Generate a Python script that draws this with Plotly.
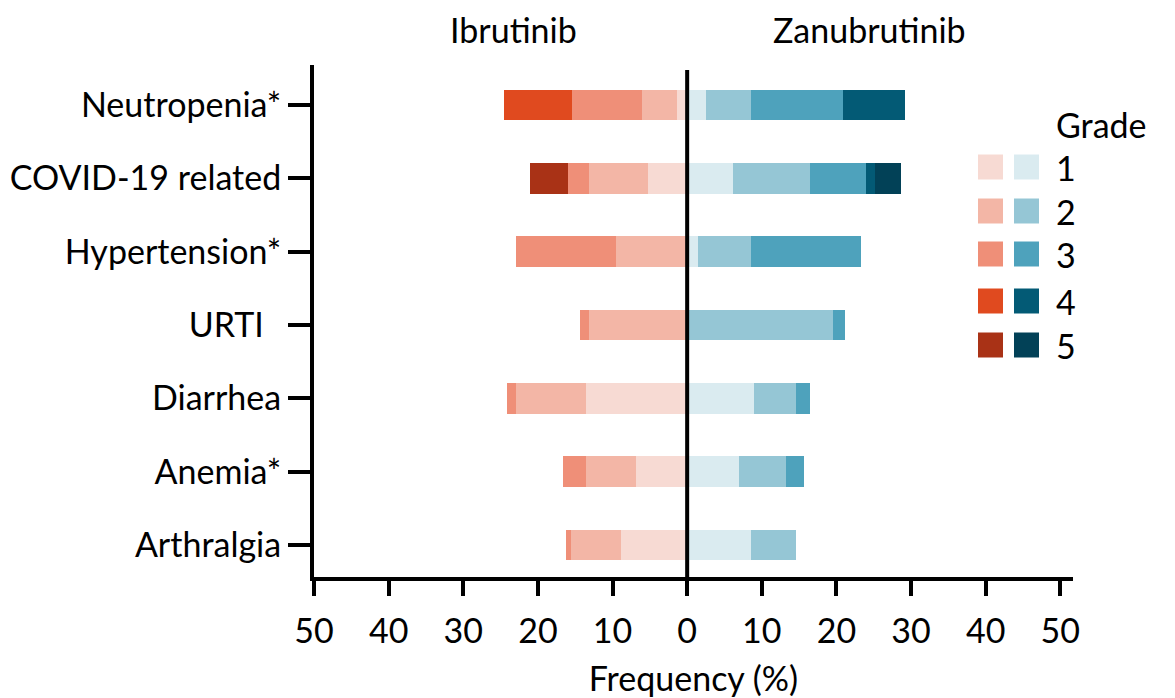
import plotly.graph_objects as go

categories = ["Neutropenia*", "COVID-19 related", "Hypertension*", "URTI\u00a0\u00a0", "Diarrhea", "Anemia*", "Arthralgia"]
grades = ["1", "2", "3", "4", "5"]

# Ibrutinib frequencies (%) by grade
ibru = {
    "1": [1.3, 5.2, 0.0, 0.0, 13.6, 6.9, 8.8],
    "2": [4.7, 7.9, 9.5, 13.1, 9.3, 6.7, 6.8],
    "3": [9.4, 2.9, 13.5, 1.3, 1.3, 3.0, 0.7],
    "4": [9.1, 0.0, 0.0, 0.0, 0.0, 0.0, 0.0],
    "5": [0.0, 5.0, 0.0, 0.0, 0.0, 0.0, 0.0],
}
# Zanubrutinib frequencies (%) by grade
zanu = {
    "1": [2.5, 6.1, 1.5, 0.0, 8.9, 7.0, 8.5],
    "2": [6.0, 10.3, 7.0, 19.5, 5.7, 6.3, 6.1],
    "3": [12.4, 7.6, 14.8, 1.6, 1.8, 2.3, 0.0],
    "4": [8.3, 1.2, 0.0, 0.0, 0.0, 0.0, 0.0],
    "5": [0.0, 3.4, 0.0, 0.0, 0.0, 0.0, 0.0],
}
red_colors = ["#F7DAD3", "#F3B6A6", "#EF8F78", "#E04A1F", "#A93216"]
blue_colors = ["#DAEBF0", "#95C6D5", "#4EA2BC", "#035A75", "#024157"]
x_ticks = [-50, -40, -30, -20, -10, 0, 10, 20, 30, 40, 50]

FONT = "Lato"
FS = 34
OFF = 8  # browser body margin
W, H = 1175 - OFF, 698 - OFF
L, T = 314 - OFF, 65 - OFF
R = 1175 - 1073
B = 698 - 577

fig = go.Figure()
for i, g in enumerate(grades):
    fig.add_trace(go.Bar(
        y=categories, x=[-v for v in ibru[g]], orientation="h",
        marker=dict(color=red_colors[i], line=dict(width=0)), width=0.42,
        name="Ibrutinib grade " + g, showlegend=False, hoverinfo="x+y+name"))
for i, g in enumerate(grades):
    fig.add_trace(go.Bar(
        y=categories, x=zanu[g], orientation="h",
        marker=dict(color=blue_colors[i], line=dict(width=0)), width=0.42,
        name="Zanubrutinib grade " + g, showlegend=False, hoverinfo="x+y+name"))

pw = W - L - R
ph = H - T - B
def px(x):
    return (x - OFF - L) / pw
def py(y):
    return 1 - (y - OFF - T) / ph

shapes = []
# center line at x=0
shapes.append(dict(type="line", xref="x", yref="paper", x0=0, x1=0, y0=0, y1=py(70),
                   line=dict(color="black", width=4)))
# custom legend
row_centers = [167, 211, 254, 301, 345]
for i in range(5):
    yc = row_centers[i]
    shapes.append(dict(type="rect", xref="paper", yref="paper",
                       x0=px(978), x1=px(1003), y0=py(yc + 12.5), y1=py(yc - 12.5),
                       fillcolor=red_colors[i], line=dict(width=0)))
    shapes.append(dict(type="rect", xref="paper", yref="paper",
                       x0=px(1014), x1=px(1039), y0=py(yc + 12.5), y1=py(yc - 12.5),
                       fillcolor=blue_colors[i], line=dict(width=0)))

annotations = []
for i, g in enumerate(grades):
    annotations.append(dict(xref="paper", yref="paper", x=px(1054), y=py(row_centers[i]),
                            text=g, showarrow=False, xanchor="left", yanchor="middle",
                            font=dict(family=FONT, size=FS, color="black")))
annotations.append(dict(xref="paper", yref="paper", x=px(1054), y=py(124),
                        text="Grade", showarrow=False, xanchor="left", yanchor="middle",
                        font=dict(family=FONT, size=FS, color="black")))
annotations.append(dict(xref="paper", yref="paper", x=px(513), y=py(OFF),
                        text="Ibrutinib", showarrow=False, xanchor="center", yanchor="top",
                        borderpad=0,
                        font=dict(family=FONT, size=FS, color="black")))
annotations.append(dict(xref="paper", yref="paper", x=px(869), y=py(OFF),
                        text="Zanubrutinib", showarrow=False, xanchor="center", yanchor="top",
                        borderpad=0,
                        font=dict(family=FONT, size=FS, color="black")))

fig.update_layout(
    width=W, height=H,
    margin=dict(l=L, r=R, t=T, b=B, pad=0, autoexpand=False),
    barmode="relative",
    plot_bgcolor="white", paper_bgcolor="white",
    font=dict(family=FONT, size=FS, color="black"),
    shapes=shapes, annotations=annotations,
    bargap=0,
)
fig.update_xaxes(
    automargin=False,
    range=[-50, 51.7], tickvals=x_ticks, ticktext=[str(abs(v)) for v in x_ticks],
    showline=True, linecolor="black", linewidth=4, mirror=False,
    ticks="outside", ticklen=15, tickwidth=4, tickcolor="black",
    ticklabelstandoff=6,
    showgrid=False, zeroline=False,
    title=dict(text="Frequency (%)", font=dict(family=FONT, size=FS), standoff=24),
    tickfont=dict(family=FONT, size=FS, color="black"),
)
fig.update_yaxes(
    automargin=False,
    categoryorder="array", categoryarray=categories,
    range=[6.436, -0.545],
    showline=True, linecolor="black", linewidth=4,
    ticks="outside", ticklen=22, tickwidth=4, tickcolor="black",
    showgrid=False, zeroline=False,
    tickfont=dict(family=FONT, size=FS, color="black"),
)

fig.write_html("out.html")
